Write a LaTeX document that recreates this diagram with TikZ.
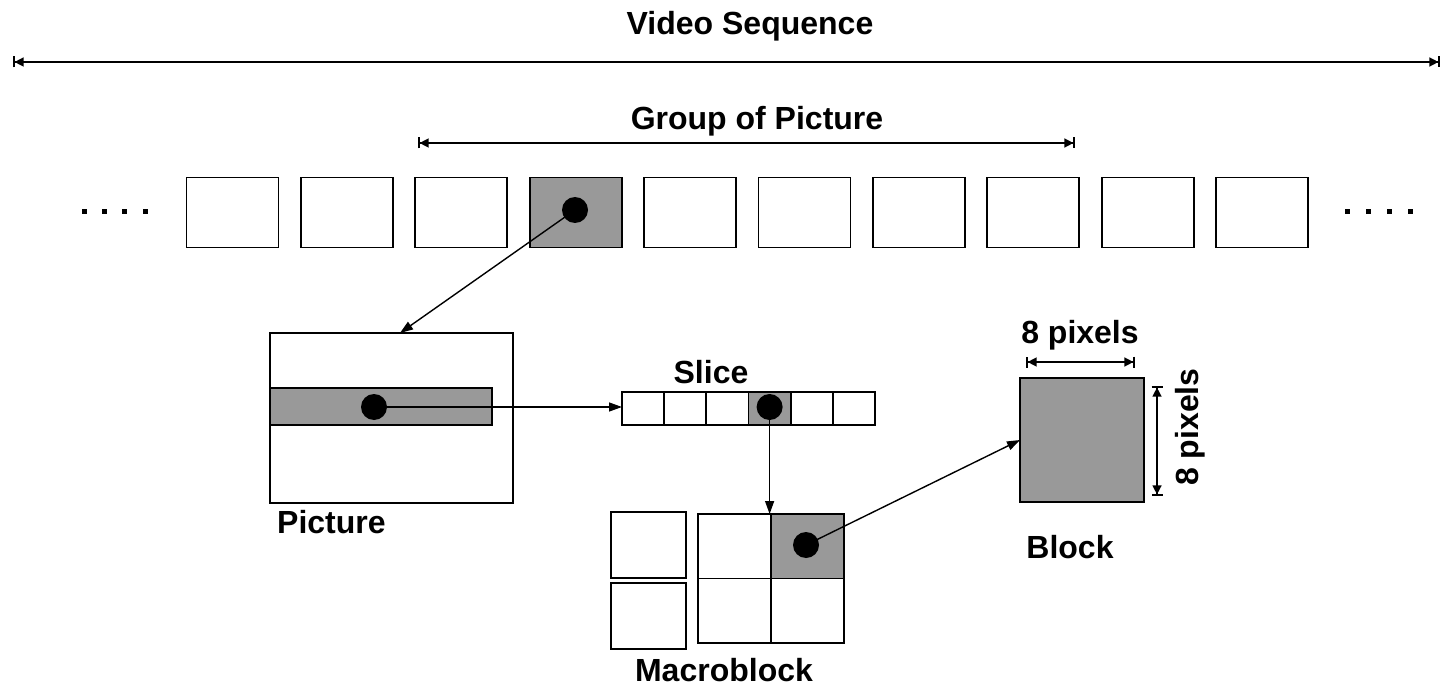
\documentclass[tikz,border=0pt]{standalone}
\usepackage{fontspec}
\setmainfont{Liberation Sans}
\usetikzlibrary{arrows.meta,calc}
\definecolor{shade}{RGB}{153,153,153}
\begin{document}
\begin{tikzpicture}[x=1pt,y=-1pt,
  box/.style={draw, line width=1.7pt, rectangle, inner sep=0pt, outer sep=0pt, fill=white},
  grey/.style={fill=shade},
  spot/.style={circle, fill=black, inner sep=0pt, minimum size=26pt},
  lbl/.style={font=\fontsize{32}{38}\selectfont\bfseries, inner sep=0pt},
  link/.style={line width=1.4pt, -{Triangle[length=13pt,width=9pt]}},
  span/.style={line width=1.4pt,
    {Bar[width=11pt,line width=1.6pt]Triangle[length=9pt,width=9pt]}-{Triangle[length=9pt,width=9pt]Bar[width=11pt,line width=1.6pt]}},
  tick/.style={rectangle, fill=black, inner sep=0pt, minimum size=5pt}
]
\useasboundingbox (0,0) rectangle (1446,687);

% ---- sequence and group extents ----
\node[lbl, anchor=base] (tvs) at (750,35) {Video Sequence};
\coordinate (vsL) at (13,62);
\coordinate (vsR) at (1440,62);
\draw[span] (vsL) -- (vsR);

\node[lbl, anchor=base] (tgop) at (757,130) {Group of Picture};
\coordinate (gpL) at (418,143);
\coordinate (gpR) at (1075,143);
\draw[span] (gpL) -- (gpR);

% ---- row of frames ----
\foreach \i in {0,1,2,4,5,6,7,8,9}
  \node[box, minimum width=92pt, minimum height=70pt] (f\i) at (232.5+114.4*\i,212.5) {};
\node[box, grey, minimum width=92pt, minimum height=70pt] (f3) at (232.5+114.4*3,212.5) {};

\foreach \x [count=\k] in {84,104,124,145}
  \node[tick] (ld\k) at (\x,212) {};
\foreach \x [count=\k] in {1347,1368,1389,1410}
  \node[tick] (rd\k) at (\x,212) {};

% ---- picture with one slice ----
\node[box, minimum width=243pt, minimum height=170pt] (pic) at (391.5,418) {};
\node[box, grey, minimum width=222pt, minimum height=37pt] (stripe) at (381,406.5) {};
\node[lbl, anchor=base west] (tpic) at (277,533) {Picture};

% ---- slice made of macroblocks ----
\foreach \k in {0,1,2,4,5}
  \node[box, minimum width=42.17pt, minimum height=33pt] (c\k) at (643.08+42.17*\k,408.5) {};
\node[box, grey, minimum width=42.17pt, minimum height=33pt] (c3) at (643.08+42.17*3,408.5) {};
\node[lbl, anchor=base] (tslice) at (711,383) {Slice};

% ---- macroblock: four luma blocks and two chroma blocks ----
\node[box, minimum width=73pt, minimum height=64.5pt] (q1) at (734.5,546.25) {};
\node[box, grey, minimum width=73pt, minimum height=64.5pt] (q2) at (807.5,546.25) {};
\node[box, minimum width=73pt, minimum height=64.5pt] (q3) at (734.5,610.75) {};
\node[box, minimum width=73pt, minimum height=64.5pt] (q4) at (807.5,610.75) {};
\node[box, minimum width=75pt, minimum height=66pt] (cb) at (648.5,545) {};
\node[box, minimum width=75pt, minimum height=66pt] (cr) at (648.5,616) {};
\node[lbl, anchor=base] (tmb) at (724,681) {Macroblock};

% ---- 8x8 block ----
\node[box, grey, minimum width=124pt, minimum height=124pt] (blk) at (1082,440) {};
\node[lbl, anchor=base] (tblk) at (1070,558) {Block};
\coordinate (hL) at (1026,362);
\coordinate (hR) at (1135,362);
\draw[span] (hL) -- (hR);
\node[lbl, anchor=base] (th) at (1080,343) {8 pixels};
\coordinate (vT) at (1157,386);
\coordinate (vB) at (1157,496);
\draw[span] (vT) -- (vB);
\node[lbl, anchor=base, rotate=90] (tv) at (1198,427) {8 pixels};

% ---- spots and the links between levels ----
\node[spot] (s1) at (575,210) {};
\node[spot] (s2) at (374,407) {};
\node[spot] (s3) at (769.6,407) {};
\node[spot] (s4) at (806,545) {};

\coordinate (pictop) at ($(pic.north west)!0.535!(pic.north east)$);
\draw[link] (s1.center) -- (pictop);
\draw[link] (s2.center) -- (s2.center -| c0.west);
\draw[link] (s3.center) -- (s3.center |- q2.north);
\draw[link] (s4.center) -- (blk.west);
\end{tikzpicture}
\end{document}
